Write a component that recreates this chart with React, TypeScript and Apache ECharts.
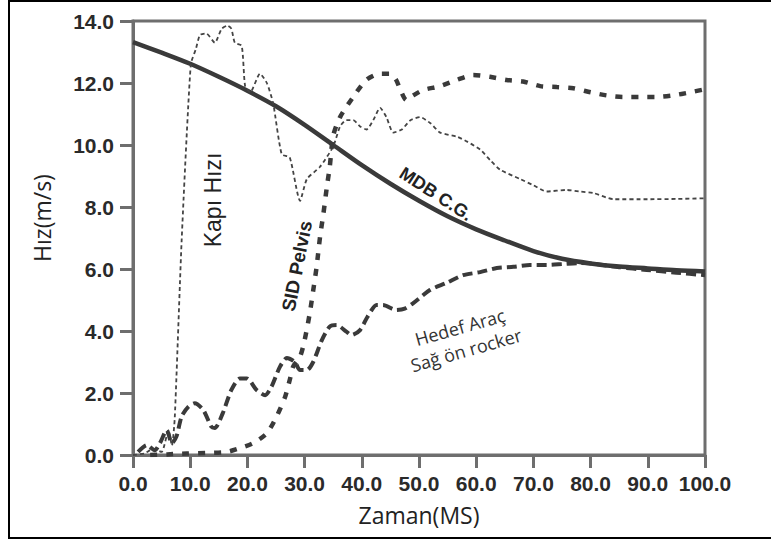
import React, { useEffect, useRef } from "react";
import * as echarts from "echarts";

const xTicks = [0, 10, 20, 30, 40, 50, 60, 70, 80, 90, 100];
const yTicks = [0, 2, 4, 6, 8, 10, 12, 14];

const mdbX = [0, 5, 10, 15, 20, 25, 30, 35, 40, 45, 50, 55, 60, 65, 70, 75, 80, 85, 90, 95, 100];
const mdbY = [13.32, 12.98, 12.62, 12.2, 11.75, 11.25, 10.65, 10.0, 9.35, 8.75, 8.2, 7.7, 7.28, 6.92, 6.58, 6.33, 6.18, 6.08, 6.02, 5.96, 5.92];

const kapiX = [0, 2, 3.5, 5, 6.2, 6.8, 7.3, 8.5, 10.1, 11, 11.7, 12.8, 14.3, 15.5, 16.5, 17.2, 17.8, 19, 19.6, 20.5, 22.2, 23.4, 24.5, 26, 27.4, 29.2, 30.4, 32.7, 35, 36.2, 37.3, 38.5, 39.7, 40.8, 42, 43.2, 44.3, 45.5, 47, 48.5, 50.2, 52, 53.7, 56.6, 58.5, 60.7, 62.5, 64.2, 67.7, 70, 72.3, 75.8, 78, 80.5, 84, 90, 95, 100];
const kapiY = [0, 0.05, 0.2, 0.1, 0.8, 0.3, 1.2, 6.9, 12.6, 13.1, 13.55, 13.6, 13.3, 13.75, 13.85, 13.75, 13.3, 13.2, 11.9, 11.7, 12.3, 12.0, 11.35, 9.7, 9.6, 8.2, 8.9, 9.3, 9.95, 10.6, 10.8, 10.8, 10.6, 10.5, 10.8, 11.2, 10.9, 10.4, 10.5, 10.8, 10.9, 10.7, 10.4, 10.27, 10.1, 9.85, 9.5, 9.2, 8.9, 8.7, 8.5, 8.55, 8.5, 8.45, 8.25, 8.25, 8.26, 8.28];

const sidX = [3, 6, 9.4, 13.5, 16.4, 18.7, 21, 23.4, 25.1, 26.6, 27.4, 28, 29.2, 30, 30.9, 31.5, 32.1, 32.7, 33.3, 33.9, 34.4, 35, 36.2, 38.5, 40.8, 43.2, 45, 46, 46.7, 47.8, 49, 50.7, 53.7, 56.6, 59.5, 62.4, 65.3, 68.2, 71.2, 74.1, 77, 80, 82.8, 85.7, 88.6, 91.5, 94.4, 97.4, 100];
const sidY = [0, 0.02, 0.05, 0.07, 0.1, 0.22, 0.38, 0.7, 1.24, 1.88, 2.42, 2.85, 3.17, 3.7, 4.57, 5.3, 6.07, 7.04, 7.8, 8.66, 9.3, 10.3, 10.9, 11.55, 12.1, 12.3, 12.3, 12.1, 11.8, 11.45, 11.6, 11.77, 11.9, 12.1, 12.26, 12.2, 12.1, 12.05, 11.9, 11.87, 11.83, 11.7, 11.6, 11.55, 11.55, 11.55, 11.6, 11.7, 11.8];

const hedefX = [0.9, 2.4, 3.8, 4.7, 5.9, 6.8, 7.6, 8.5, 9.7, 10.8, 12.3, 13.7, 14.3, 15.7, 17.2, 18.7, 19.9, 21.6, 23.1, 24.2, 25.7, 26.9, 28.3, 29.2, 30.4, 31.5, 33, 34.4, 35.6, 37.3, 38.2, 39.7, 41, 42.6, 43.7, 46, 47.5, 49, 51.9, 54.8, 57.7, 60.7, 63.6, 66.5, 69.4, 72.3, 75.2, 78.1, 80, 85, 89.8, 95, 100];
const hedefY = [0.1, 0.32, 0.15, 0.38, 0.8, 0.38, 0.6, 1.24, 1.56, 1.67, 1.45, 0.91, 0.87, 1.35, 2.1, 2.47, 2.47, 2.1, 1.93, 2.2, 2.85, 3.13, 3.0, 2.74, 2.74, 3.0, 3.7, 4.14, 4.19, 3.98, 3.87, 4.03, 4.46, 4.84, 4.84, 4.68, 4.72, 4.9, 5.32, 5.55, 5.8, 5.9, 6.03, 6.07, 6.13, 6.13, 6.16, 6.19, 6.18, 6.06, 5.97, 5.88, 5.8];

const zip = (xs: number[], ys: number[]) => xs.map((x, i) => [x, ys[i]]);

export default function App() {
  const ref = useRef<HTMLDivElement>(null);
  useEffect(() => {
    document.body.style.margin = "0";
    const chart = echarts.init(ref.current!, undefined, { renderer: "svg" });
    const lineColor = "#3a3a3a";
    const axisColor = "#6e6e6e";
    const tickFont = { fontFamily: "Liberation Sans", fontWeight: "bold" as const, fontSize: 21, color: "#2a2a2a" };
    chart.setOption({
      animation: false,
      backgroundColor: "#fff",
      grid: { left: 133, right: 66, top: 21, bottom: 88, show: true, borderColor: axisColor, borderWidth: 3, backgroundColor: "transparent" },
      xAxis: {
        type: "value", min: 0, max: 100, interval: 10,
        name: "Zaman(MS)", nameLocation: "middle", nameGap: 48,
        nameTextStyle: { fontFamily: "Open Sans", fontSize: 23, color: "#222" },
        axisLine: { show: true, lineStyle: { color: axisColor, width: 3 } },
        axisTick: { show: true, inside: false, length: 13, lineStyle: { color: axisColor, width: 3 } },
        axisLabel: { ...tickFont, margin: 18, formatter: (v: number) => v.toFixed(1) },
        splitLine: { show: false },
      },
      yAxis: {
        type: "value", min: 0, max: 14, interval: 2,
        name: "Hız(m/s)", nameLocation: "middle", nameGap: 80, nameRotate: 90,
        nameTextStyle: { fontFamily: "Open Sans", fontSize: 23, color: "#222", padding: [0, 0, 0, 40] },
        axisLine: { show: true, lineStyle: { color: axisColor, width: 3 } },
        axisTick: { show: true, inside: false, length: 13, lineStyle: { color: axisColor, width: 3 } },
        axisLabel: { ...tickFont, margin: 19, formatter: (v: number) => v.toFixed(1) },
        splitLine: { show: false },
      },
      series: [
        {
          name: "MDB C.G.", type: "line", data: zip(mdbX, mdbY), showSymbol: false, smooth: 0.3,
          lineStyle: { color: lineColor, width: 4.5, type: "solid" },
        },
        {
          name: "Kapı Hızı", type: "line", data: zip(kapiX, kapiY), showSymbol: false, smooth: 0.2,
          lineStyle: { color: "#444", width: 1.8, type: [4, 3] },
        },
        {
          name: "SID Pelvis", type: "line", data: zip(sidX, sidY), showSymbol: false, smooth: 0.25,
          lineStyle: { color: lineColor, width: 4.5, type: [7, 9] },
        },
        {
          name: "Hedef Araç Sağ ön rocker", type: "line", data: zip(hedefX, hedefY), showSymbol: false, smooth: 0.25,
          lineStyle: { color: lineColor, width: 4, type: [10, 5] },
        },
      ],
      graphic: [
        { type: "rect", shape: { x: 9, y: 1, width: 800, height: 537 }, style: { fill: "none", stroke: "#000", lineWidth: 2 }, silent: true },
        { type: "text", x: 213, y: 200, rotation: Math.PI / 2, style: { text: "Kapı Hızı", font: "23px 'Liberation Sans'", fill: "#222", textAlign: "center", textVerticalAlign: "middle" } },
        { type: "text", x: 297, y: 266, rotation: (79 * Math.PI) / 180, style: { text: "SID Pelvis", font: "bold 19px 'Liberation Sans'", fill: "#222", textAlign: "center", textVerticalAlign: "middle" } },
        { type: "text", x: 436, y: 194, rotation: (-33 * Math.PI) / 180, style: { text: "MDB C.G.", font: "bold 18px 'Liberation Sans'", fill: "#222", textAlign: "center", textVerticalAlign: "middle" } },
        { type: "text", x: 460, y: 327, rotation: (15.7 * Math.PI) / 180, style: { text: "Hedef Araç", font: "18px 'Open Sans'", fill: "#333", textAlign: "center", textVerticalAlign: "middle" } },
        { type: "text", x: 466, y: 350, rotation: (16 * Math.PI) / 180, style: { text: "Sağ ön rocker", font: "18px 'Open Sans'", fill: "#333", textAlign: "center", textVerticalAlign: "middle" } },
      ],
    });
    return () => chart.dispose();
  }, []);
  return <div ref={ref} style={{ width: 771, height: 543 }} />;
}
